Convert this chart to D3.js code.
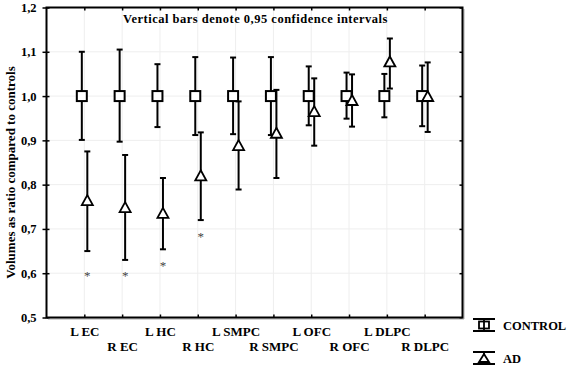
<!DOCTYPE html>
<html>
<head>
<meta charset="utf-8">
<script src="https://cdn.jsdelivr.net/npm/d3@7"></script>
<style>
  body { margin: 0; background: #fff; }
</style>
</head>
<body>
<div id="chart"></div>
<script>
// data
var categories = ["L EC", "R EC", "L HC", "R HC", "L SMPC", "R SMPC", "L OFC", "R OFC", "L DLPC", "R DLPC"];
var controlMean = [1.0, 1.0, 1.0, 1.0, 1.0, 1.0, 1.0, 1.0, 1.0, 1.0];
var controlLow  = [0.901, 0.897, 0.930, 0.912, 0.914, 0.912, 0.934, 0.949, 0.952, 0.932];
var controlHigh = [1.100, 1.105, 1.072, 1.088, 1.087, 1.088, 1.067, 1.053, 1.050, 1.069];
var adMean = [0.764, 0.748, 0.735, 0.820, 0.888, 0.916, 0.965, 0.990, 1.077, 0.999];
var adLow  = [0.650, 0.630, 0.654, 0.720, 0.789, 0.815, 0.888, 0.931, 1.017, 0.919];
var adHigh = [0.875, 0.867, 0.815, 0.918, 0.988, 1.014, 1.040, 1.049, 1.130, 1.076];
// asterisks (significant differences) under the AD bars
var starCats = ["L EC", "R EC", "L HC", "R HC"];
var starPos  = [0.600, 0.600, 0.624, 0.688];
var yTicks = [0.5, 0.6, 0.7, 0.8, 0.9, 1.0, 1.1, 1.2];

var FONT = "'Liberation Serif', 'DejaVu Serif', serif";
var W = 567, H = 367;
var margin = {top: 7.5, right: 104.5, bottom: 49.5, left: 46.5},
    width = W - margin.left - margin.right,
    height = H - margin.top - margin.bottom;

var svg = d3.select("#chart")
  .append("svg")
    .attr("width", W)
    .attr("height", H);

var g = svg.append("g")
    .attr("transform", "translate(" + margin.left + "," + margin.top + ")");

var x = d3.scalePoint()
  .domain(categories)
  .range([0, width])
  .padding(1);

var y = d3.scaleLinear()
  .domain([0.5, 1.2])
  .range([height, 0]);

var fmt = function(d) { return d3.format(".1f")(d).replace(".", ","); };

// faint grid
g.append("g").selectAll("line.h")
  .data(yTicks.slice(1, -1))
  .enter().append("line")
    .attr("x1", 0).attr("x2", width)
    .attr("y1", d => y(d)).attr("y2", d => y(d))
    .attr("stroke", "#eeeeee");
g.append("g").selectAll("line.v")
  .data(categories)
  .enter().append("line")
    .attr("x1", d => x(d)).attr("x2", d => x(d))
    .attr("y1", 0).attr("y2", height)
    .attr("stroke", "#eeeeee");

// left axis: labels + outward ticks
var yAxis = g.append("g")
  .call(d3.axisLeft(y).tickValues(yTicks).tickFormat(fmt).tickSize(4).tickPadding(6));
yAxis.select(".domain").remove();
yAxis.selectAll("line").attr("stroke-width", 1.5);
yAxis.selectAll("text").style("font-size", "12.5px").attr("fill", "#000");

// inner ticks on left and right
g.append("g")
  .call(d3.axisRight(y).tickValues(yTicks).tickFormat("").tickSize(3))
  .call(s => s.select(".domain").remove())
  .selectAll("line").attr("stroke-width", 1.5);
g.append("g")
  .attr("transform", "translate(" + width + ",0)")
  .call(d3.axisLeft(y).tickValues(yTicks).tickFormat("").tickSize(3))
  .call(s => s.select(".domain").remove())
  .selectAll("line").attr("stroke-width", 1.5);

// top ticks
g.append("g")
  .call(d3.axisBottom(x).tickFormat("").tickSize(3))
  .call(s => s.select(".domain").remove())
  .selectAll("line").attr("stroke-width", 1.5);

// bottom axis with staggered labels
var xAxis = g.append("g")
  .attr("transform", "translate(0," + height + ")")
  .call(d3.axisBottom(x).tickSize(-3).tickPadding(9));
xAxis.select(".domain").remove();
xAxis.selectAll("line").attr("stroke-width", 1.5);
xAxis.selectAll("text")
  .style("font-size", "13px")
  .attr("fill", "#000")
  .attr("y", function(d, i) { return i % 2 ? 24.5 : 9; });

// frame with a light shadow
g.append("path")
  .attr("d", "M" + (width + 1.5) + ",1.5V" + (height + 1.5) + "H1.5")
  .attr("fill", "none")
  .attr("stroke", "#aaaaaa")
  .attr("stroke-width", 1);
g.append("rect")
  .attr("width", width)
  .attr("height", height)
  .attr("fill", "none")
  .attr("stroke", "#000")
  .attr("stroke-width", 2);

// title
g.append("text")
  .attr("x", width / 2 + 1)
  .attr("y", 15)
  .attr("text-anchor", "middle")
  .style("font-size", "12.5px")
  .style("letter-spacing", "0.5px")
  .text("Vertical bars denote 0,95 confidence intervals");

// y label
svg.append("text")
  .attr("transform", "translate(15," + (margin.top + height / 2 + 10) + ") rotate(-90)")
  .attr("text-anchor", "middle")
  .style("font-size", "13px")
  .text("Volumes as ratio compared to controls");

var offC = -2.5, offA = 3;
var cap = 3;

function errorBars(cls, mean, low, high, off) {
  var sel = g.append("g").attr("class", cls).selectAll("g")
    .data(categories.map((c, i) => ({c: c, m: mean[i], lo: low[i], hi: high[i]})))
    .enter().append("g")
      .attr("transform", d => "translate(" + (x(d.c) + off) + ",0)");
  sel.append("line")
    .attr("y1", d => y(d.lo)).attr("y2", d => y(d.hi))
    .attr("stroke", "#000").attr("stroke-width", 2);
  sel.append("line")
    .attr("x1", -cap).attr("x2", cap)
    .attr("y1", d => y(d.lo)).attr("y2", d => y(d.lo))
    .attr("stroke", "#000").attr("stroke-width", 2);
  sel.append("line")
    .attr("x1", -cap).attr("x2", cap)
    .attr("y1", d => y(d.hi)).attr("y2", d => y(d.hi))
    .attr("stroke", "#000").attr("stroke-width", 2);
  return sel;
}

var ctl = errorBars("control", controlMean, controlLow, controlHigh, offC);
var ad = errorBars("ad", adMean, adLow, adHigh, offA);

// AD triangles
ad.append("path")
  .attr("d", d => "M0," + (y(d.m) - 5.5) + "L5.5," + (y(d.m) + 4.5) + "L-5.5," + (y(d.m) + 4.5) + "Z")
  .attr("fill", "#fff").attr("stroke", "#000").attr("stroke-width", 1.8);

// control squares drawn on top
ctl.append("rect")
  .attr("x", -5).attr("y", d => y(d.m) - 5)
  .attr("width", 10).attr("height", 10)
  .attr("fill", "#fff").attr("stroke", "#000").attr("stroke-width", 2);

// asterisks
g.append("g").selectAll("text")
  .data(starCats)
  .enter().append("text")
    .attr("x", d => x(d) + offA)
    .attr("y", (d, i) => y(starPos[i]) + 7)
    .attr("text-anchor", "middle")
    .attr("fill", "#444")
    .style("font-size", "13px")
    .attr("class", "star")
    .text("*");

// legend
var legend = svg.append("g").attr("transform", "translate(473,0)");
var lc = legend.append("g").attr("transform", "translate(0,318)");
lc.append("line").attr("x1", 0).attr("x2", 22).attr("y1", 1).attr("y2", 1).attr("stroke", "#000").attr("stroke-width", 2);
lc.append("line").attr("x1", 0).attr("x2", 22).attr("y1", 13).attr("y2", 13).attr("stroke", "#000").attr("stroke-width", 2);
lc.append("rect").attr("x", 6).attr("y", 3.5).attr("width", 10).attr("height", 7).attr("fill", "#fff").attr("stroke", "#000").attr("stroke-width", 1.8);
lc.append("line").attr("x1", 11).attr("x2", 11).attr("y1", 1).attr("y2", 13).attr("stroke", "#000").attr("stroke-width", 1.8);
lc.append("text").attr("x", 30).attr("y", 12).style("font-size", "12.5px").text("CONTROL");

var la = legend.append("g").attr("transform", "translate(0,351)");
la.append("line").attr("x1", 0).attr("x2", 22).attr("y1", 1).attr("y2", 1).attr("stroke", "#000").attr("stroke-width", 2);
la.append("line").attr("x1", 0).attr("x2", 22).attr("y1", 13).attr("y2", 13).attr("stroke", "#000").attr("stroke-width", 2);
la.append("line").attr("x1", 11).attr("x2", 11).attr("y1", 1).attr("y2", 13).attr("stroke", "#000").attr("stroke-width", 1.8);
la.append("path").attr("d", "M11,3L16,11L6,11Z").attr("fill", "#fff").attr("stroke", "#000").attr("stroke-width", 1.8);
la.append("text").attr("x", 30).attr("y", 12).style("font-size", "12.5px").text("AD");

// serif bold for every text element
svg.selectAll("text")
  .style("font-family", FONT)
  .style("font-weight", "bold");
svg.selectAll("text.star").style("font-weight", "normal");
</script>
</body>
</html>
